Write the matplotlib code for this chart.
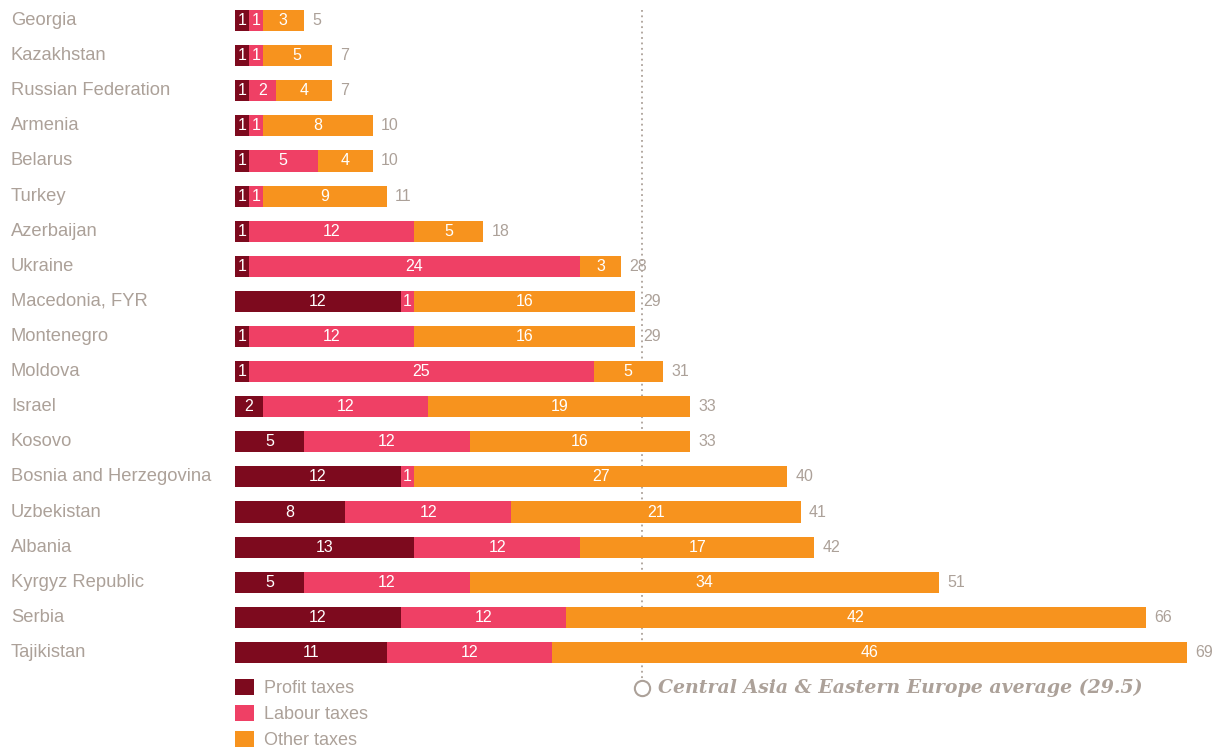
import matplotlib
matplotlib.use("Agg")
import matplotlib.pyplot as plt
import matplotlib.transforms as mtransforms
import numpy as np

countries = ["Georgia", "Kazakhstan", "Russian Federation", "Armenia", "Belarus",
             "Turkey", "Azerbaijan", "Ukraine", "Macedonia, FYR", "Montenegro",
             "Moldova", "Israel", "Kosovo", "Bosnia and Herzegovina", "Uzbekistan",
             "Albania", "Kyrgyz Republic", "Serbia", "Tajikistan"]
profit = [1, 1, 1, 1, 1, 1, 1, 1, 12, 1, 1, 2, 5, 12, 8, 13, 5, 12, 11]
labour = [1, 1, 2, 1, 5, 1, 12, 24, 1, 12, 25, 12, 12, 1, 12, 12, 12, 12, 12]
other = [3, 5, 4, 8, 4, 9, 5, 3, 16, 16, 5, 19, 16, 27, 21, 17, 34, 42, 46]
totals = [5, 7, 7, 10, 10, 11, 18, 28, 29, 29, 31, 33, 33, 40, 41, 42, 51, 66, 69]
average = 29.5

series = [("Profit taxes", profit, "#7d0a1e"),
          ("Labour taxes", labour, "#ef4065"),
          ("Other taxes", other, "#f7931e")]
grey = "#aca199"

plt.rcParams["font.family"] = ["Liberation Sans", "DejaVu Sans"]

fig = plt.figure(figsize=(12.16, 7.49), dpi=100)
ax = fig.add_axes([235 / 1216, 1 - 670 / 749, 952 / 1216, 667 / 749])

y = np.arange(len(countries))
left = np.zeros(len(countries))
handles = []
for name, vals, col in series:
    vals = np.array(vals, dtype=float)
    b = ax.barh(y, vals, left=left, height=0.6, color=col, label=name)
    handles.append(b)
    for yi, l, v in zip(y, left, vals):
        ax.text(l + v / 2, yi, f"{int(v)}", ha="center", va="center",
                color="white", fontsize=11.5)
    left += vals

for yi, t in zip(y, totals):
    ax.text(t + 0.6, yi, str(t), ha="left", va="center", color=grey, fontsize=11.5)

trans = mtransforms.blended_transform_factory(fig.transFigure, ax.transData)
for yi, c in zip(y, countries):
    ax.text(11 / 1216, yi, c, transform=trans, ha="left", va="center",
            color=grey, fontsize=13.2)

# average marker
ax.plot([average, average], [-0.3, 18.8], linestyle=(0, (1, 2)), color=grey,
        linewidth=1.3, clip_on=False, zorder=0)
ax.plot([average], [19.0], marker="o", markersize=11, markerfacecolor="white",
        markeredgecolor=grey, markeredgewidth=1.5, clip_on=False)
ax.text(average + 1.15, 19.0, f"Central Asia & Eastern Europe average ({average})",
        family="DejaVu Serif", style="italic", weight="bold", fontsize=13.6,
        color=grey, ha="left", va="center")

ax.set_xlim(0, 69)
ax.set_ylim(18.5, -0.5)
ax.axis("off")

leg = ax.legend(handles=handles, loc="upper left", bbox_to_anchor=(0.0, -0.013),
                frameon=False, handlelength=1.05, handleheight=1.05, handletextpad=0.55,
                labelspacing=0.41, fontsize=13, borderaxespad=0, borderpad=0)
for t in leg.get_texts():
    t.set_color(grey)

fig.savefig("out.png", dpi=100)
